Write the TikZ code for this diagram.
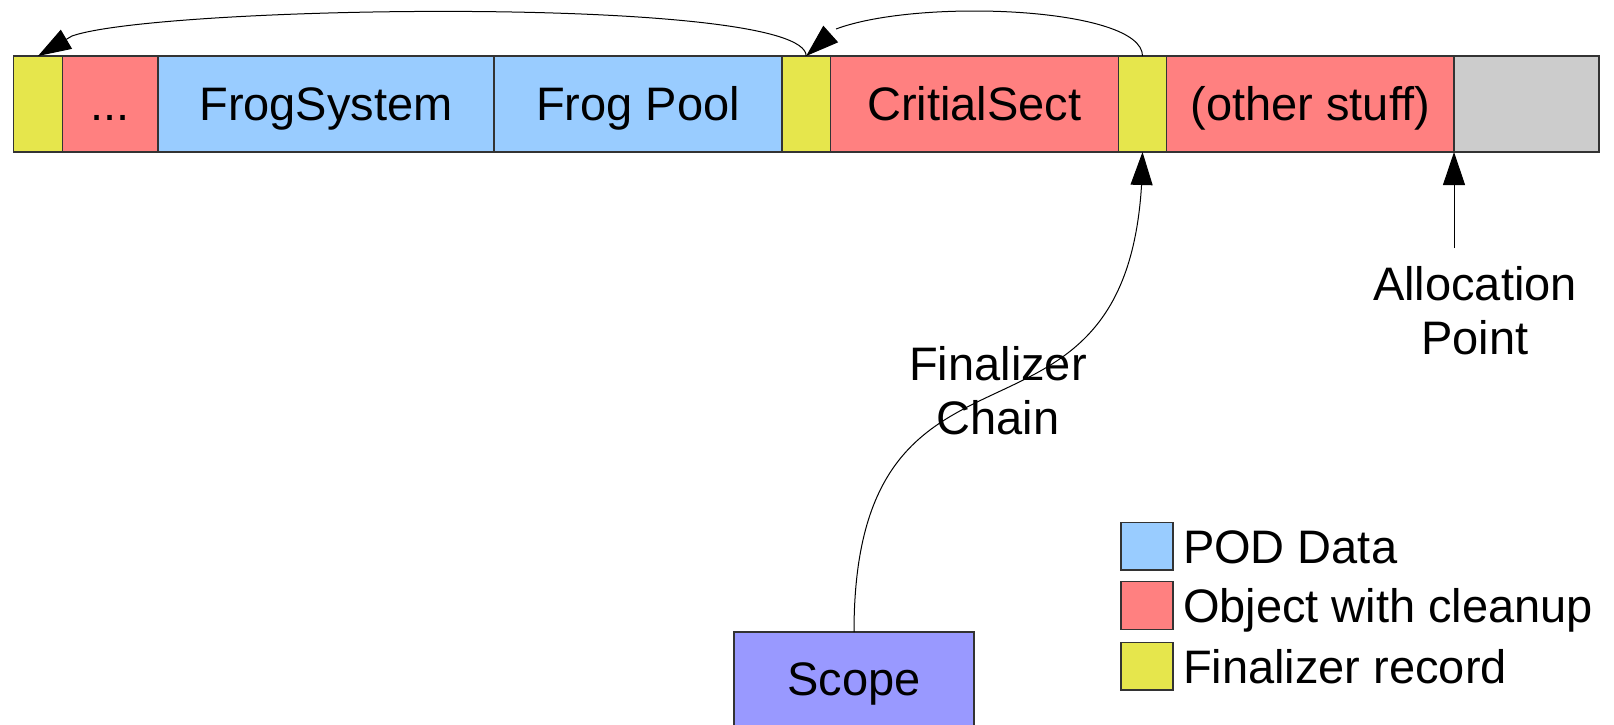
\documentclass[tikz,border=0pt]{standalone}
\usepackage{fontspec}
\setmainfont{Liberation Sans}
\usetikzlibrary{arrows.meta,bending}
\definecolor{poddata}{HTML}{99CCFF}
\definecolor{cleanup}{HTML}{FF8080}
\definecolor{finrec}{HTML}{E6E64C}
\definecolor{freemem}{HTML}{CCCCCC}
\definecolor{scopefill}{HTML}{9999FF}
\begin{document}
\begin{tikzpicture}[x=1pt,y=-1pt,
  every node/.style={font=\fontsize{47}{56}\selectfont, inner sep=0pt, outer sep=0pt},
  cell/.style={draw=black!80, line width=1.2pt, minimum height=96pt,
               text height=33.6pt, text depth=0pt},
  key/.style={draw=black!80, line width=1.2pt, minimum width=52pt, minimum height=47.7pt},
  caption/.style={anchor=base},
  legendtext/.style={anchor=base west},
  link/.style={draw, line width=1pt, -{Triangle[length=33pt,width=22pt,flex]}}
]
\useasboundingbox (0,0) rectangle (1614,725);

% heap memory strip
\node[cell, fill=finrec,  minimum width=48.6pt]  (f1)    at (38,104)     {};
\node[cell, fill=cleanup, minimum width=95.7pt]  (dots)  at (110.15,104) {...};
\node[cell, fill=poddata, minimum width=336pt]   (fsys)  at (326,104)    {FrogSystem};
\node[cell, fill=poddata, minimum width=288pt]   (fpool) at (638,104)    {Frog Pool};
\node[cell, fill=finrec,  minimum width=48.3pt]  (f2)    at (806.15,104) {};
\node[cell, fill=cleanup, minimum width=288.2pt] (crit)  at (974.4,104)  {CritialSect};
\node[cell, fill=finrec,  minimum width=48pt]    (f3)    at (1142.5,104) {};
\node[cell, fill=cleanup, minimum width=287.5pt] (other) at (1310.25,104) {(other stuff)};
\node[cell, fill=freemem, minimum width=145pt]   (free)  at (1526.5,104) {};

% finalizer records linked back to front
\draw[link] (f2.north) .. controls +(0,-61) and (160,5) .. (72,36) -- (f1.north);
\draw[link] (f3.north) .. controls +(0,-60) and +(0,-60) .. (f2.north);

% scope holding the head of the chain
\node[cell, fill=scopefill, minimum width=240pt, minimum height=94pt] (scope) at (854,679) {Scope};
\draw[link] (scope.north) .. controls +(0,-345) and +(0,345) .. (f3.south);
\node[caption] (chainA) at (998,380.7) {Finalizer};
\node[caption] (chainB) at (998,434) {Chain};

% allocation point
\coordinate (allocfoot) at (1454,248);
\draw[link] (allocfoot) -- (other.south east);
\node[caption] (allocA) at (1475,300) {Allocation};
\node[caption] (allocB) at (1475,354) {Point};

% legend
\node[key, fill=poddata] (k1) at (1147,546.2) {};
\node[key, fill=cleanup] (k2) at (1147,605.5) {};
\node[key, fill=finrec]  (k3) at (1147,666.2) {};
\node[legendtext] (l1) at (1183,563)   {POD Data};
\node[legendtext] (l2) at (1183,622.3) {Object with cleanup};
\node[legendtext] (l3) at (1183,683)   {Finalizer record};
\end{tikzpicture}
\end{document}
